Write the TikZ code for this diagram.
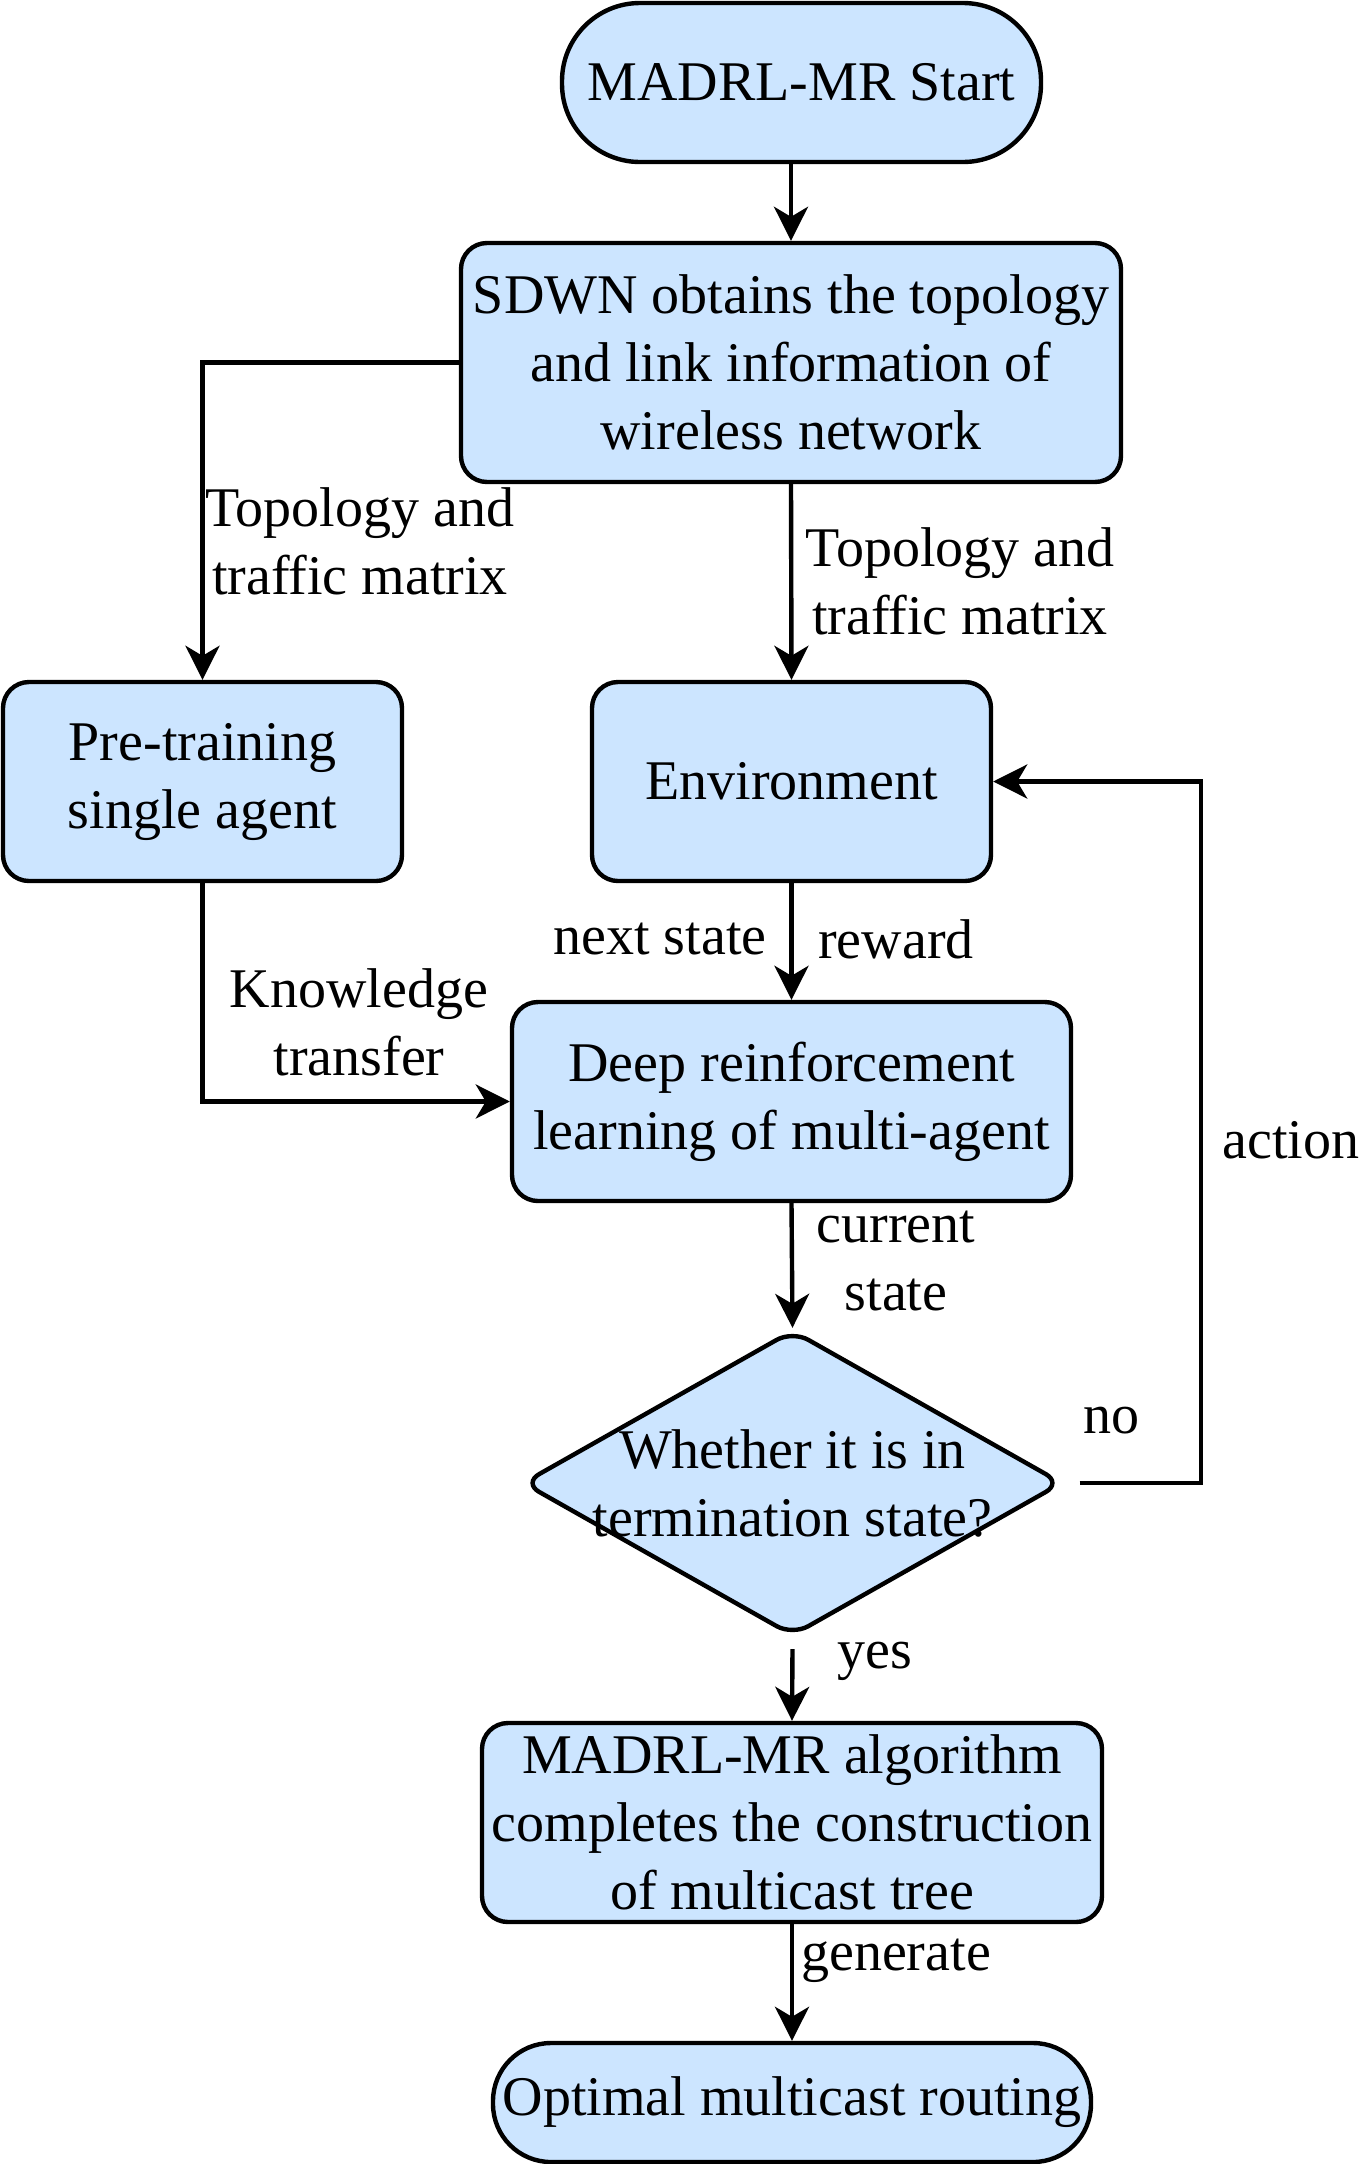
\documentclass[tikz,border=0pt]{standalone}
\usepackage{fontspec}
\setmainfont{Liberation Serif}
\usetikzlibrary{shapes.geometric,arrows.meta}
\definecolor{boxfill}{HTML}{CCE5FF}
\newcommand{\bigtxt}{\fontsize{56}{68}\selectfont}
\tikzset{
  box/.style={draw=black, line width=4.4pt, fill=boxfill, rectangle, rounded corners=26pt,
    align=center, font=\bigtxt, inner sep=0pt},
  term/.style={box, rounded corners=58pt},
  dia/.style={draw=black, line width=4.4pt, fill=boxfill, diamond, rounded corners=18pt,
    inner sep=0pt, minimum width=540pt, minimum height=306pt},
  lab/.style={align=center, font=\bigtxt, inner sep=0pt},
  arr/.style={line width=4.4pt, -{Stealth[length=34pt,width=34pt,inset=10pt]}},
  ln/.style={line width=4.4pt}
}
\begin{document}
\begin{tikzpicture}[x=1pt,y=-1pt]
\useasboundingbox (0,0) rectangle (1360,2164);
\node[term, minimum width=479pt, minimum height=159pt, rounded corners=78pt] (start) at (801.5,82.5) {MADRL-MR Start};
\node[box, minimum width=660pt, minimum height=239pt] (sdwn) at (791,362.5) {SDWN obtains the topology\\and link information of\\wireless network};
\node[box, minimum width=399pt, minimum height=199pt] (pre) at (202.5,781.5) {Pre-training\\single agent};
\node[box, minimum width=399pt, minimum height=199pt] (env) at (791.5,781.5) {Environment};
\node[box, minimum width=559pt, minimum height=199pt] (drl) at (791.5,1101.5) {Deep reinforcement\\learning of multi-agent};
\node[dia, label={[lab]center:{Whether it is in\\termination state?}}] (dec) at (792.5,1483) {};
\node[box, minimum width=620pt, minimum height=199pt] (alg) at (792,1822.5) {MADRL-MR algorithm\\completes the construction\\of multicast tree};
\node[term, minimum width=598pt, minimum height=119pt] (opt) at (792,2102.5) {Optimal multicast routing};

\coordinate (turn) at (1201,1483);

\draw[arr] (sdwn.north |- start.south) -- (sdwn.north);
\draw[arr] (sdwn.west) -| (pre.north);
\draw[arr] (sdwn.south) -- (env.north);
\draw[arr] (env.south) -- (drl.north);
\draw[arr] (pre.south) |- (drl.west);
\draw[arr] (drl.south) -- (dec.north);
\draw[arr] ([xshift=15pt]dec.east) -- (turn) |- (env.east);
\draw[arr] ([yshift=-11pt]dec.south) -- (alg.north);
\draw[arr] (alg.south) -- (opt.north);

\node[lab] (l1) at (360,541) {Topology and\\traffic matrix};
\node[lab] (l2) at (960,581) {Topology and\\traffic matrix};
\node[lab] (l3) at (660,939) {next state};
\node[lab] (l4) at (896,939) {reward};
\node[lab] (l5) at (359,1022) {Knowledge\\transfer};
\node[lab] (l6) at (896,1261) {current\\state};
\node[lab] (l7) at (1111,1421) {no};
\node[lab] (l8) at (1291,1140) {action};
\node[lab] (l9) at (875,1661) {yes};
\node[lab] (l10) at (896,1961) {generate};
\end{tikzpicture}
\end{document}
